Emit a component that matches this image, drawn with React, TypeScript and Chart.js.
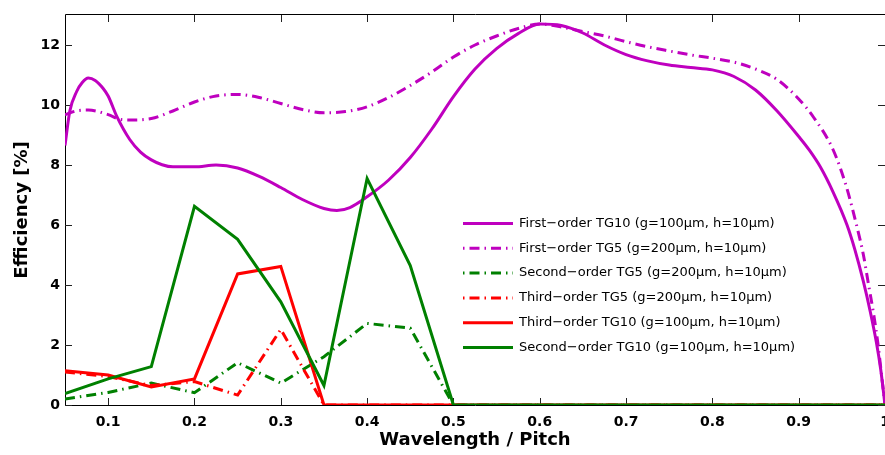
import React, { useEffect, useRef } from "react";
import { Chart, registerables } from "chart.js";

Chart.register(...registerables);

// ---------- data ----------
const coarseX = [0.05, 0.1, 0.15, 0.2, 0.25, 0.3, 0.35, 0.4, 0.45, 0.5, 0.55, 0.6, 0.65, 0.7, 0.75, 0.8, 0.85, 0.9, 0.95, 1.0];
const secondTG10 = [0.38, 0.87, 1.28, 6.62, 5.52, 3.44, 0.65, 7.55, 4.65, 0, 0, 0, 0, 0, 0, 0, 0, 0, 0, 0];
const thirdTG10 = [1.14, 1.0, 0.6, 0.87, 4.37, 4.62, 0, 0, 0, 0, 0, 0, 0, 0, 0, 0, 0, 0, 0, 0];
const thirdTG5 = [1.1, 0.95, 0.65, 0.78, 0.33, 2.52, 0, 0, 0, 0, 0, 0, 0, 0, 0, 0, 0, 0, 0, 0];
const secondTG5 = [0.2, 0.42, 0.73, 0.41, 1.41, 0.73, 1.61, 2.72, 2.56, 0, 0, 0, 0, 0, 0, 0, 0, 0, 0, 0];

const firstTG10X = [0.05, 0.0556, 0.0635, 0.07, 0.077, 0.085, 0.094, 0.1, 0.11, 0.125, 0.1375, 0.15, 0.1625, 0.175, 0.2, 0.225, 0.25, 0.275, 0.3, 0.325, 0.35, 0.365, 0.38, 0.4, 0.425, 0.45, 0.475, 0.5, 0.525, 0.55, 0.575, 0.6, 0.625, 0.65, 0.675, 0.7, 0.725, 0.75, 0.775, 0.8, 0.825, 0.85, 0.875, 0.9, 0.913, 0.925, 0.94, 0.956, 0.965, 0.975, 0.983, 0.99, 0.995, 1.0];
const firstTG10Y = [8.65, 9.8, 10.45, 10.75, 10.9, 10.82, 10.56, 10.3, 9.62, 8.85, 8.43, 8.17, 8.01, 7.94, 7.94, 8.0, 7.9, 7.62, 7.25, 6.85, 6.55, 6.48, 6.58, 6.94, 7.5, 8.25, 9.2, 10.28, 11.2, 11.88, 12.38, 12.7, 12.65, 12.4, 12.0, 11.68, 11.47, 11.33, 11.25, 11.17, 10.95, 10.5, 9.8, 8.95, 8.47, 7.94, 7.09, 6.0, 5.19, 4.11, 3.1, 2.09, 1.19, 0];

const firstTG5X = [0.05, 0.0625, 0.077, 0.1, 0.114, 0.125, 0.15, 0.175, 0.2, 0.225, 0.25, 0.275, 0.3, 0.325, 0.35, 0.375, 0.4, 0.425, 0.45, 0.475, 0.5, 0.525, 0.55, 0.575, 0.6, 0.625, 0.65, 0.675, 0.7, 0.725, 0.75, 0.775, 0.8, 0.825, 0.85, 0.875, 0.9, 0.917, 0.94, 0.955, 0.967, 0.975, 0.981, 0.987, 0.992, 0.996, 1.0];
const firstTG5Y = [9.67, 9.8, 9.83, 9.68, 9.52, 9.5, 9.55, 9.8, 10.1, 10.3, 10.35, 10.25, 10.05, 9.85, 9.74, 9.78, 9.94, 10.25, 10.65, 11.1, 11.6, 12.0, 12.3, 12.55, 12.7, 12.6, 12.45, 12.3, 12.11, 11.94, 11.8, 11.67, 11.56, 11.43, 11.2, 10.85, 10.2, 9.6, 8.5, 7.3, 6.0, 5.0, 4.0, 3.0, 2.0, 1.0, 0];

const xTickValues = [0.1, 0.2, 0.3, 0.4, 0.5, 0.6, 0.7, 0.8, 0.9, 1.0];
const xTickLabels = ["0.1", "0.2", "0.3", "0.4", "0.5", "0.6", "0.7", "0.8", "0.9", "1"];
const yTickValues = [0, 2, 4, 6, 8, 10, 12];
const yTickLabels = ["0", "2", "4", "6", "8", "10", "12"];

const seriesLabels = [
  "First\u2212order TG10 (g=100\u00b5m, h=10\u00b5m)",
  "First\u2212order TG5 (g=200\u00b5m, h=10\u00b5m)",
  "Second\u2212order TG5 (g=200\u00b5m, h=10\u00b5m)",
  "Third\u2212order TG5 (g=200\u00b5m, h=10\u00b5m)",
  "Third\u2212order TG10 (g=100\u00b5m, h=10\u00b5m)",
  "Second\u2212order TG10 (g=100\u00b5m, h=10\u00b5m)",
];

const MAGENTA = "#BF00BF";
const GREEN = "#008000";
const RED = "#FF0000";
const DASH_DOT = [10, 5, 1.5, 5];

const FONT = "'DejaVu Sans', 'Liberation Sans', sans-serif";

function pts(xs: number[], ys: number[]) {
  return xs.map((x, i) => ({ x, y: ys[i] }));
}

const framePlugin = {
  id: "frameTicks",
  beforeDatasetsDraw(chart: any) {
    const { ctx, chartArea } = chart;
    const { left, right, top, bottom } = chartArea;
    const xs = chart.scales.x;
    const ys = chart.scales.y;
    const tl = 7;
    ctx.save();
    ctx.strokeStyle = "#000";
    ctx.lineWidth = 1;
    ctx.beginPath();
    ctx.moveTo(left + 0.5, top - 0.5);
    ctx.lineTo(right + 0.5, top - 0.5);
    ctx.lineTo(right + 0.5, bottom + 0.5);
    ctx.lineTo(left + 0.5, bottom + 0.5);
    ctx.closePath();
    ctx.stroke();
    ctx.strokeStyle = "#222";
    ctx.beginPath();
    for (const v of xTickValues) {
      const px = Math.round(xs.getPixelForValue(v)) + 0.5;
      ctx.moveTo(px, bottom);
      ctx.lineTo(px, bottom - tl);
      ctx.moveTo(px, top);
      ctx.lineTo(px, top + tl);
    }
    for (const v of yTickValues) {
      const py = Math.round(ys.getPixelForValue(v)) + 0.5;
      ctx.moveTo(left, py);
      ctx.lineTo(left + tl, py);
      ctx.moveTo(right, py);
      ctx.lineTo(right - tl, py);
    }
    ctx.stroke();
    ctx.restore();
  },
  afterDatasetsDraw(chart: any) {
    const { ctx } = chart;
    const ds = chart.data.datasets;
    ctx.save();
    const x0 = 463;
    const x1 = 513;
    const tx = 519;
    const y0 = 223.5;
    const dy = 24.8;
    for (let i = 0; i < ds.length; i++) {
      const d = ds[i];
      const y = y0 + i * dy;
      ctx.strokeStyle = d.borderColor;
      ctx.lineWidth = 3;
      ctx.lineCap = "butt";
      ctx.setLineDash(d.borderDash || []);
      ctx.lineDashOffset = d.borderDash && d.borderDash.length ? 15 : 0;
      ctx.beginPath();
      ctx.moveTo(x0, y);
      ctx.lineTo(x1, y);
      ctx.stroke();
      ctx.setLineDash([]);
      ctx.fillStyle = "#000";
      ctx.font = "13px " + FONT;
      ctx.textBaseline = "middle";
      ctx.textAlign = "left";
      ctx.fillText(d.label, tx, y);
    }
    ctx.restore();
  },
};

export default function App() {
  const ref = useRef<HTMLCanvasElement | null>(null);
  useEffect(() => {
    document.body.style.margin = "0";
    document.body.style.overflow = "hidden";
    const canvas = ref.current;
    if (!canvas) return;
    const colors = [MAGENTA, MAGENTA, GREEN, RED, RED, GREEN];
    const dashed = [false, true, true, true, false, false];
    const dataSets = [
      pts(firstTG10X, firstTG10Y),
      pts(firstTG5X, firstTG5Y),
      pts(coarseX, secondTG5),
      pts(coarseX, thirdTG5),
      pts(coarseX, thirdTG10),
      pts(coarseX, secondTG10),
    ];
    const smooth = [true, true, false, false, false, false];
    const tickFont = { family: FONT, size: 14, weight: "bold" as const };
    const titleFont = { family: FONT, size: 18, weight: "bold" as const };
    const chart = new Chart(canvas, {
      type: "line",
      data: {
        datasets: dataSets.map((d, i) => ({
          label: seriesLabels[i],
          data: d,
          borderColor: colors[i],
          backgroundColor: colors[i],
          borderWidth: 3,
          borderDash: dashed[i] ? DASH_DOT : [],
          pointRadius: 0,
          fill: false,
          tension: 0,
          cubicInterpolationMode: smooth[i] ? "monotone" : "default",
          order: 5 - i,
        })),
      },
      options: {
        animation: false,
        responsive: false,
        devicePixelRatio: 1,
        layout: { padding: { top: 15, right: 0, left: 0, bottom: 0 } },
        plugins: { legend: { display: false }, tooltip: { enabled: false } },
        scales: {
          x: {
            type: "linear",
            min: 0.05,
            max: 1.0,
            grid: { display: false, drawTicks: false },
            border: { display: false },
            afterBuildTicks: (s: any) => {
              s.ticks = xTickValues.map((v) => ({ value: v }));
            },
            afterFit: (s: any) => {
              s.height = 50;
              s.paddingLeft = 0;
              s.paddingRight = 0;
            },
            ticks: {
              autoSkip: false,
              maxRotation: 0,
              padding: 9,
              color: "#000",
              font: tickFont,
              callback: (_v: any, i: number) => xTickLabels[i],
            },
            title: {
              display: true,
              text: "Wavelength / Pitch",
              color: "#000",
              font: titleFont,
              padding: { top: 0, bottom: 4 },
            },
          },
          y: {
            type: "linear",
            min: 0,
            max: 13,
            grid: { display: false, drawTicks: false },
            border: { display: false },
            afterBuildTicks: (s: any) => {
              s.ticks = yTickValues.map((v) => ({ value: v }));
            },
            afterFit: (s: any) => {
              s.width = 65;
              s.paddingTop = 0;
              s.paddingBottom = 0;
            },
            ticks: {
              autoSkip: false,
              padding: 5,
              color: "#000",
              font: tickFont,
              callback: (_v: any, i: number) => yTickLabels[i],
            },
            title: {
              display: true,
              text: "Efficiency [%]",
              color: "#000",
              font: titleFont,
              padding: { top: 12, bottom: 0 },
            },
          },
        },
      },
      plugins: [framePlugin],
    } as any);
    return () => chart.destroy();
  }, []);
  return (
    <canvas
      ref={ref}
      width={885}
      height={455}
      style={{ display: "block", width: 885, height: 455 }}
    />
  );
}
